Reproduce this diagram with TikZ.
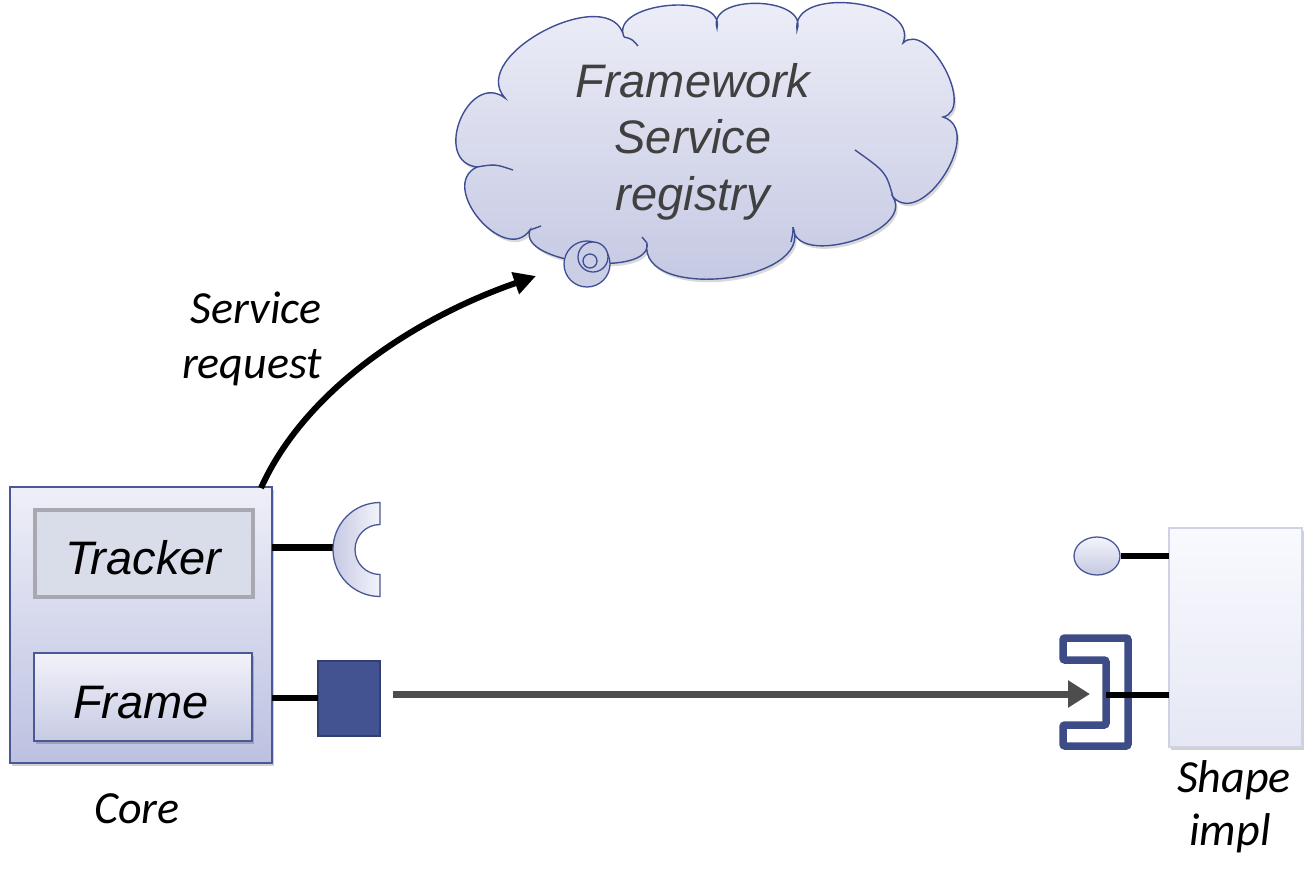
\documentclass[tikz,border=0pt]{standalone}
\usepackage{fontspec}
\setmainfont{Liberation Sans}
\newfontfamily\carlito{Carlito}
\usetikzlibrary{arrows.meta,calc,shapes.geometric,shadows}
\definecolor{edgeblue}{HTML}{4A5896}
\definecolor{cloudedge}{HTML}{3F4E92}
\definecolor{coreTop}{HTML}{EEEFF8}
\definecolor{coreBot}{HTML}{BCC1E1}
\definecolor{trackFill}{HTML}{D9DCE9}
\definecolor{trackEdge}{HTML}{A7A8B0}
\definecolor{frameTop}{HTML}{F2F2FA}
\definecolor{frameBot}{HTML}{C7CBE3}
\definecolor{sqFill}{HTML}{435290}
\definecolor{sqEdge}{HTML}{313E72}
\definecolor{brackBlue}{HTML}{3D4B87}
\definecolor{arrowGray}{HTML}{4D4D4D}
\definecolor{implTop}{HTML}{F9FAFE}
\definecolor{implBot}{HTML}{E5E7F4}
\definecolor{implEdge}{HTML}{CFD2E4}
\definecolor{cloudTop}{HTML}{EFF0F9}
\definecolor{cloudBot}{HTML}{C2C6E1}
\definecolor{cloudText}{HTML}{404040}
\definecolor{partTop}{HTML}{F3F4FA}
\definecolor{partBot}{HTML}{C5C9E3}
\begin{document}
\begin{tikzpicture}[x=1pt,y=-1pt,
  box/.style={rectangle, draw=edgeblue, line width=1.3pt, inner sep=0pt, outer sep=0pt},
  softshadow/.style={drop shadow={opacity=0.18, fill=black, shadow xshift=2pt, shadow yshift=-3pt}},
  arial/.style={font={\itshape\fontsize{47}{56}\selectfont}, inner sep=0pt, anchor=base},
  calib/.style={font={\carlito\itshape\fontsize{46}{52}\selectfont}, inner sep=0pt, anchor=base},
  wire/.style={line width=6.5pt, black},
  cloudline/.style={draw=cloudedge, line width=1.4pt}]
\useasboundingbox (0,0) rectangle (1304,868);

% ---------- cloud ----------
\coordinate (cA) at (505,98);
\coordinate (cB) at (624,37);
\coordinate (cC) at (717,28);
\coordinate (cD) at (797,30);
\coordinate (cE) at (903,43);
\coordinate (cF) at (943,117);
\coordinate (cG) at (893,197);
\coordinate (cH) at (793,227);
\coordinate (cI) at (647,243);
\coordinate (cJ) at (530,230);
\coordinate (cK) at (477,167);
\path[cloudline, top color=cloudTop, bottom color=cloudBot,
      drop shadow={opacity=0.15, fill=black, shadow xshift=2pt, shadow yshift=-3pt}]
  (cA) .. controls ($(cA)!58pt!105:(cB)$) and ($(cB)!58pt!-105:(cA)$) .. (cB)
       .. controls ($(cB)!38pt!108:(cC)$) and ($(cC)!38pt!-108:(cB)$) .. (cC)
       .. controls ($(cC)!36pt!108:(cD)$) and ($(cD)!36pt!-108:(cC)$) .. (cD)
       .. controls ($(cD)!46pt!105:(cE)$) and ($(cE)!46pt!-105:(cD)$) .. (cE)
       .. controls ($(cE)!34pt!105:(cF)$) and ($(cF)!34pt!-105:(cE)$) .. (cF)
       .. controls ($(cF)!44pt!105:(cG)$) and ($(cG)!44pt!-105:(cF)$) .. (cG)
       .. controls ($(cG)!42pt!105:(cH)$) and ($(cH)!42pt!-105:(cG)$) .. (cH)
       .. controls ($(cH)!60pt!105:(cI)$) and ($(cI)!60pt!-105:(cH)$) .. (cI)
       .. controls ($(cI)!36pt!105:(cJ)$) and ($(cJ)!36pt!-105:(cI)$) .. (cJ)
       .. controls ($(cJ)!44pt!105:(cK)$) and ($(cK)!44pt!-105:(cJ)$) .. (cK)
       .. controls ($(cK)!46pt!105:(cA)$) and ($(cA)!46pt!-105:(cK)$) .. (cA)
  -- cycle;
% inner cusp strokes
\draw[cloudline] (cB) .. controls (632,39) .. (638,46);
\draw[cloudline] (cG) .. controls (886,172) .. (855,150);
\draw[cloudline] (cK) .. controls (495,164) .. (513,170);
\draw[cloudline] (cJ) .. controls (535,228) .. (541,226);
\draw[cloudline] (cI) .. controls (645,240) .. (642,237);
\draw[cloudline] (cH) .. controls (793,233) .. (791,242);
% callout bubbles
\node[circle, cloudline, line width=1.3pt, fill=cloudBot!85!white, minimum size=46pt, inner sep=0pt] (bub1) at (587,264) {};
\node[circle, cloudline, line width=1.3pt, fill=cloudBot!85!white, minimum size=30pt, inner sep=0pt] (bub2) at (593,257) {};
\node[circle, cloudline, line width=1.3pt, fill=cloudBot!85!white, minimum size=14pt, inner sep=0pt] (bub3) at (590,261) {};
% cloud text
\node[arial, text=cloudText] (fw1) at (693,97) {Framework};
\node[arial, text=cloudText] (fw2) at (693,153.5) {Service};
\node[arial, text=cloudText] (fw3) at (693,210) {registry};

% ---------- core ----------
\node[box, softshadow, top color=coreTop, bottom color=coreBot, minimum width=262pt, minimum height=276pt] (core) at (141,625) {};
\node[rectangle, draw=trackEdge, line width=4pt, fill=trackFill, inner sep=0pt, minimum width=218pt, minimum height=87pt] (tracker) at (143.5,553) {};
\node[arial] (trackertxt) at (143.5,574) {Tracker};
\node[box, softshadow, top color=frameTop, bottom color=frameBot, minimum width=218pt, minimum height=88pt] (frame) at (143,697) {};
\node[arial] (frametxt) at (141,718) {Frame};
\node[calib] (corelbl) at (137,823) {Core};

% tracker socket
\coordinate (sockL) at (333,547.5);
\draw[wire] (core.east |- sockL) -- (sockL);
\draw[draw=edgeblue, line width=1.3pt, left color=partBot, right color=partTop]
  (380,502.5) arc[start angle=270, end angle=90, radius=47] -- (380,574.5)
  arc[start angle=90, end angle=270, radius=25] -- cycle;

% frame port
\node[rectangle, draw=sqEdge, line width=2pt, fill=sqFill, inner sep=0pt, outer sep=0pt, minimum width=62pt, minimum height=75pt] (sq) at (349,698.5) {};
\draw[wire] (core.east |- 0,698) -- (sq.west |- 0,698);

% service request arrow
\coordinate (reqStart) at (261,488);
\coordinate (reqEnd) at (536,276);
\draw[line width=6pt, -{Triangle[length=22pt,width=22pt]}] (reqStart) .. controls (305,390) and (415,318) .. (reqEnd);
\node[calib, anchor=base east] (sr1) at (322,323) {Service};
\node[calib, anchor=base east] (sr2) at (322,378) {request};

% ---------- shape impl ----------
\node[rectangle, draw=implEdge, line width=1.2pt, top color=implTop, bottom color=implBot, inner sep=0pt, outer sep=0pt, softshadow, minimum width=133pt, minimum height=219pt] (impl) at (1235.5,637.5) {};
\node[calib] (impl1) at (1234,792) {Shape};
\node[calib] (impl2) at (1230,845) {impl};

% ball
\node[ellipse, draw=edgeblue, line width=1.3pt, top color=partTop, bottom color=partBot, inner sep=0pt, minimum width=46pt, minimum height=38pt] (ball) at (1097,556) {};
\draw[wire] (ball.east) -- (impl.west |- ball.east);

% receptacle bracket
\draw[brackBlue, line width=7.5pt, rounded corners=2pt]
  (1063,638) -- (1128,638) -- (1128,746) -- (1063,746) -- (1063,725) -- (1106,725) -- (1106,660) -- (1063,660) -- cycle;
\coordinate (recvIn) at (1106,695);
\draw[wire] (recvIn) -- (impl.west |- recvIn);

% data arrow
\coordinate (dStart) at (393,694);
\coordinate (dEnd) at (1090,694);
\draw[arrowGray, line width=7pt, -{Triangle[length=22pt,width=26pt]}] (dStart) -- (dEnd);
\end{tikzpicture}
\end{document}
